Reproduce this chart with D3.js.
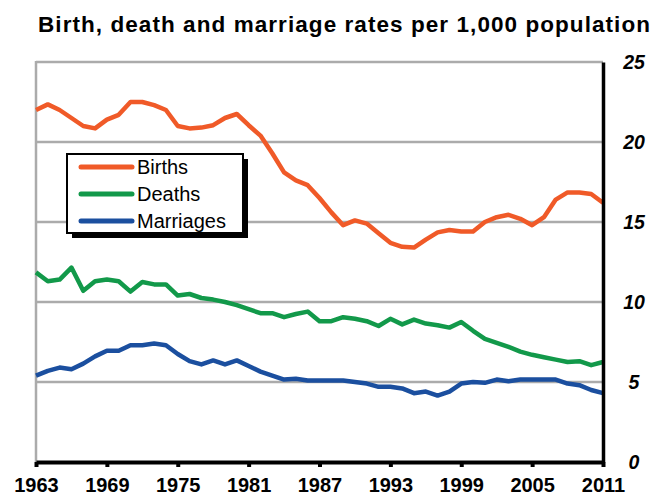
<!DOCTYPE html>
<html>
<head>
<meta charset="utf-8">
<script src="https://cdn.jsdelivr.net/npm/d3@7"></script>
<style>
  body { margin: 0; background: #fff; }
  svg { font-family: "Liberation Sans", Arial, sans-serif; }
</style>
</head>
<body>
<svg></svg>
<script>
// birth, death and marriage rates, 1963-2011
var years = d3.range(1963, 2012);
var births = [22.0, 22.35, 22.0, 21.5, 21.0, 20.85, 21.4, 21.7, 22.5, 22.5,
  22.3, 22.0, 21.0, 20.85, 20.9, 21.05, 21.5, 21.75, 21.05, 20.4,
  19.3, 18.1, 17.6, 17.3, 16.5, 15.6, 14.8, 15.1, 14.9, 14.3,
  13.7, 13.45, 13.4, 13.9, 14.35, 14.5, 14.4, 14.4, 15.0, 15.3,
  15.45, 15.2, 14.8, 15.3, 16.4, 16.85, 16.85, 16.75, 16.2];
var deaths = [11.85, 11.3, 11.4, 12.15, 10.7, 11.3, 11.4, 11.3, 10.65, 11.25,
  11.1, 11.1, 10.4, 10.5, 10.25, 10.15, 10.0, 9.8, 9.55, 9.3,
  9.3, 9.05, 9.25, 9.4, 8.8, 8.8, 9.05, 8.95, 8.8, 8.5,
  8.95, 8.6, 8.9, 8.65, 8.55, 8.4, 8.75, 8.2, 7.7, 7.45,
  7.2, 6.9, 6.7, 6.55, 6.4, 6.25, 6.3, 6.05, 6.25];
var marriages = [5.4, 5.7, 5.9, 5.8, 6.15, 6.6, 6.95, 6.95, 7.3, 7.3,
  7.4, 7.3, 6.75, 6.3, 6.1, 6.35, 6.1, 6.35, 6.0, 5.65,
  5.4, 5.15, 5.2, 5.1, 5.1, 5.1, 5.1, 5.0, 4.9, 4.7,
  4.7, 4.6, 4.3, 4.4, 4.15, 4.4, 4.9, 5.0, 4.95, 5.15,
  5.05, 5.15, 5.15, 5.15, 5.15, 4.9, 4.8, 4.5, 4.3];
var seriesNames = ["Births", "Deaths", "Marriages"];
var seriesColors = ["#f05a28", "#12994a", "#1b4f9f"];
var yTicks = [0, 5, 10, 15, 20, 25];
var xTicks = d3.range(1963, 2012, 6);

var svgWidth = 657, svgHeight = 500;
var plotLeft = 36, plotRight = 603, plotTop = 62, plotBottom = 462;

var svg = d3.select("svg")
    .attr("width", svgWidth)
    .attr("height", svgHeight);

var xScale = d3.scaleLinear().domain([1963, 2011]).range([plotLeft, plotRight]);
var yScale = d3.scaleLinear().domain([0, 25]).range([plotBottom, plotTop]);

svg.append("text")
    .attr("x", 38)
    .attr("y", 32)
    .attr("font-size", 22.5)
    .attr("font-weight", "bold")
    .attr("textLength", 612)
    .attr("lengthAdjust", "spacing")
    .text("Birth, death and marriage rates per 1,000 population");

// gridlines
svg.selectAll(".grid")
    .data(yTicks.slice(1))
    .enter()
    .append("line")
    .attr("x1", plotLeft)
    .attr("x2", plotRight)
    .attr("y1", function(d) { return yScale(d); })
    .attr("y2", function(d) { return yScale(d); })
    .attr("stroke", "#ababab")
    .attr("stroke-width", 2.5);

svg.append("line")
    .attr("x1", plotLeft).attr("x2", plotLeft)
    .attr("y1", plotTop - 1).attr("y2", plotBottom)
    .attr("stroke", "#ababab")
    .attr("stroke-width", 2.5);

// lines
var line = d3.line()
    .x(function(d, i) { return xScale(years[i]); })
    .y(function(d) { return yScale(d); });

[births, deaths, marriages].forEach(function(s, k) {
  svg.append("path")
      .datum(s)
      .attr("d", line)
      .attr("fill", "none")
      .attr("stroke", seriesColors[k])
      .attr("stroke-width", 4.5)
      .attr("stroke-linejoin", "round");
});

// right axis
var yAxis = d3.axisRight(yScale).tickValues(yTicks).tickSize(0).tickPadding(21);
var ya = svg.append("g")
    .attr("transform", "translate(" + plotRight + ",0)")
    .call(yAxis);
ya.select(".domain").attr("stroke", "#000").attr("stroke-width", 3.5);
ya.selectAll("text")
    .attr("font-family", "Liberation Sans, Arial, sans-serif")
    .attr("font-size", 19.5)
    .attr("font-weight", "bold")
    .attr("font-style", "italic")
    .attr("text-anchor", "middle")
    .attr("dx", 10)
    .attr("fill", "#000");

// bottom axis
var xAxis = d3.axisBottom(xScale).tickValues(xTicks).tickFormat(d3.format("d")).tickSizeInner(5).tickSizeOuter(0).tickPadding(11);
var xa = svg.append("g")
    .attr("transform", "translate(0," + plotBottom + ")")
    .call(xAxis);
xa.select(".domain").attr("stroke", "#000").attr("stroke-width", 4);
xa.selectAll(".tick line").attr("stroke", "#000").attr("stroke-width", 4);
xa.selectAll("text")
    .attr("font-family", "Liberation Sans, Arial, sans-serif")
    .attr("font-size", 20)
    .attr("font-weight", "bold")
    .attr("fill", "#000");

// legend
var lg = svg.append("g").attr("transform", "translate(67,154)");
lg.append("rect")
    .attr("x", 5).attr("y", 5)
    .attr("width", 176).attr("height", 79)
    .attr("fill", "#000");
lg.append("rect")
    .attr("x", 0).attr("y", 0)
    .attr("width", 176).attr("height", 79)
    .attr("fill", "#fff")
    .attr("stroke", "#000")
    .attr("stroke-width", 2);
var items = lg.selectAll(".item")
    .data(seriesNames)
    .enter()
    .append("g")
    .attr("transform", function(d, i) { return "translate(0," + (13 + i * 27) + ")"; });
items.append("line")
    .attr("x1", 14).attr("x2", 65)
    .attr("stroke", function(d, i) { return seriesColors[i]; })
    .attr("stroke-width", 5)
    .attr("stroke-linecap", "round");
items.append("text")
    .attr("x", 70)
    .attr("y", 7)
    .attr("font-size", 20)
    .text(function(d) { return d; });
</script>
</body>
</html>
